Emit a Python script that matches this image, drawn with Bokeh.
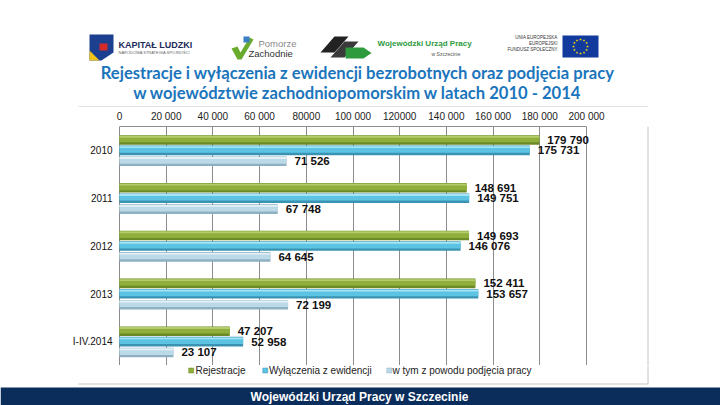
from bokeh.plotting import figure
from bokeh.layouts import column
from bokeh.models import (FactorRange, Range1d, FixedTicker, Span, ColumnDataSource)
from bokeh.transform import dodge
from bokeh.core.properties import value
from bokeh.embed import file_html
from bokeh.resources import INLINE

# ---------------- data ----------------
categories = ["2010", "2011", "2012", "2013", "I-IV.2014"]
rejestracje = [179790, 148691, 149693, 152411, 47207]
wylaczenia = [175731, 149751, 146076, 153657, 52958]
podjecia = [71526, 67748, 64645, 72199, 23107]
series_names = ["Rejestracje", "Wyłączenia z ewidencji", "w tym z powodu podjęcia pracy"]
x_ticks = [0, 20000, 40000, 60000, 80000, 100000, 120000, 140000, 160000, 180000, 200000]
x_tick_labels = ["0", "20 000", "40 000", "60 000", "80000", "100 000", "120000",
                 "140 000", "160 000", "180 000", "200 000"]
title_lines = ["Rejestracje i wyłączenia z ewidencji bezrobotnych oraz podjęcia pracy",
               "w województwie zachodniopomorskim w latach 2010 - 2014"]
footer_text = "Wojewódzki Urząd Pracy w Szczecinie"


def fmt(v):
    return f"{v:,}".replace(",", " ")


src = ColumnDataSource(dict(
    cat=categories,
    rej=rejestracje, wyl=wylaczenia, pod=podjecia,
    rej_lbl=[fmt(v) for v in rejestracje],
    wyl_lbl=[fmt(v) for v in wylaczenia],
    pod_lbl=[fmt(v) for v in podjecia],
))

W = 720
HEAD_H, MAIN_H, FOOT_H = 107, 258, 40
BOX_L, BOX_R = 78, 647
BOX_C = "#c4c4c4"
GRID = "#8c8c8c"
FONT = "Liberation Sans"

# series styling: (field, dodge offset, dark, mid, light)
series = [
    ("rej", 0.218, ("#6b8a26", "#8fae3c", "#b4cc6a")),
    ("wyl", 0.0, ("#3a93b3", "#5cc3e3", "#a3e4f6")),
    ("pod", -0.228, ("#8fb0c2", "#bcd9e7", "#e2f1f7")),
]


def blank(h):
    f = figure(width=W, height=h, output_backend="svg", toolbar_location=None,
               x_range=Range1d(0, W), y_range=Range1d(h, 0),
               x_axis_location=None, y_axis_location=None,
               min_border=0, min_border_left=0, min_border_right=0,
               min_border_top=0, min_border_bottom=0)
    f.grid.visible = False
    f.outline_line_color = None
    f.background_fill_color = "white"
    f.border_fill_color = "white"
    return f


# ---------------- header (logos + title) ----------------
hd = blank(HEAD_H)
# Kapitał Ludzki logo
hd.patches(xs=[[89, 113, 113, 101, 89], [89, 99, 89], [99, 107, 107, 99]],
           ys=[[34, 34, 52, 60, 60], [50, 60, 60], [43, 43, 50, 50]],
           fill_color=["#1d3f8f", "#f2c318", "#d62a2a"], line_color=None)
hd.text(x=[118], y=[44], text=["KAPITAŁ LUDZKI"],
        text_font=value(FONT), text_font_style="bold", text_font_size="9px",
        text_color="#1d2b5a", text_baseline="middle")
hd.text(x=[118], y=[52], text=["NARODOWA STRATEGIA SPÓJNOŚCI"], text_font=value(FONT),
        text_font_size="4px", text_color="#666666", text_baseline="middle")
# Pomorze Zachodnie
hd.patches(xs=[[231, 237, 240, 249, 253, 241, 237], [243, 249, 249, 243]],
           ys=[[48, 46, 52, 37, 39, 59, 59], [36, 36, 42, 42]],
           fill_color=["#6aaa2c", "#3a7fc8"], line_color=None)
hd.text(x=[258], y=[43], text=["Pomorze"], text_font=value(FONT), text_font_size="9.5px",
        text_color="#8a8a8a", text_baseline="middle")
hd.text(x=[248], y=[53], text=["Zachodnie"], text_font=value(FONT), text_font_size="9.5px",
        text_color="#333333", text_baseline="middle")
# WUP
hd.patches(xs=[[320, 334, 348, 334], [330, 344, 358, 344], [345, 363, 371, 363, 345]],
           ys=[[52, 36, 36, 52], [57, 41, 41, 57], [47, 47, 52.5, 58, 58]],
           fill_color=["#222222", "#3a3a3a", "#2e9a3e"], line_color=None)
hd.text(x=[377], y=[43], text=["Wojewódzki Urząd Pracy"], text_font=value(FONT),
        text_font_style="bold", text_font_size="8px", text_color="#2e9a3e", text_baseline="middle")
hd.text(x=[460], y=[53], text=["w Szczecinie"], text_font=value(FONT), text_font_size="5px",
        text_color="#555555", text_baseline="middle", text_align="right")
# UE
hd.text(x=[557, 557, 557], y=[37, 43, 49], text=["UNIA EUROPEJSKA", "EUROPEJSKI", "FUNDUSZ SPOŁECZNY"],
        text_font=value(FONT), text_font_size="4.5px", text_color="#333333",
        text_baseline="middle", text_align="right")
hd.quad(left=[562], right=[598], top=[35], bottom=[57], fill_color="#113a9c", line_color=None)
star_x = [587, 586.1, 583.5, 580, 576.5, 573.9, 573, 573.9, 576.5, 580, 583.5, 586.1]
star_y = [46, 49.5, 52.1, 53, 52.1, 49.5, 46, 42.5, 39.9, 39, 39.9, 42.5]
hd.scatter(x=star_x, y=star_y, marker="star", size=3, fill_color="#ffdd00", line_color=None)
# title
hd.text(x=[357, 357], y=[72, 92], text=title_lines, text_font=value("Lato"),
        text_font_style="bold", text_font_size="16.6px", text_color="#1b75bc",
        text_align="center", text_baseline="middle")
# chart box top line
hd.segment(x0=[BOX_L], x1=[BOX_R + 1], y0=[106.5], y1=[106.5], line_color=BOX_C, line_width=1)

# ---------------- main chart ----------------
X0_PX = 119                  # pixel of value 0
PX_PER_UNIT = 467 / 200000   # horizontal scale
FT, FH = 16, 242
p = figure(width=W, height=MAIN_H, output_backend="svg", toolbar_location=None,
           y_range=FactorRange(*categories[::-1], range_padding=0, factor_padding=0),
           x_range=Range1d(-X0_PX / PX_PER_UNIT, (W - X0_PX) / PX_PER_UNIT),
           x_axis_location="above", y_axis_location=None,
           min_border_left=0, min_border_right=0,
           min_border_top=FT, min_border_bottom=MAIN_H - FT - FH)
p.outline_line_color = None
p.background_fill_color = "white"
p.border_fill_color = "white"

p.xaxis.ticker = FixedTicker(ticks=x_ticks)
p.xaxis.major_label_overrides = dict(zip(x_ticks, x_tick_labels))
p.xaxis.bounds = (0, 200000)
p.xaxis.axis_line_color = GRID
p.xaxis.major_tick_line_color = None
p.xaxis.major_tick_out = 0
p.xaxis.major_tick_in = 0
p.xaxis.minor_tick_line_color = None
p.xaxis.major_label_standoff = 5
p.xaxis.major_label_text_font = FONT
p.xaxis.major_label_text_font_size = "10px"
p.xaxis.major_label_text_color = "#222222"

p.ygrid.grid_line_color = None
p.xgrid.ticker = FixedTicker(ticks=x_ticks)
p.xgrid.grid_line_color = GRID
p.xgrid.grid_line_width = 1

# box right edge
p.add_layout(Span(location=(BOX_R + 0.5 - X0_PX) / PX_PER_UNIT, dimension="height",
                  line_color=BOX_C, line_width=1))

# category labels (left of the value axis)
p.text(x=0, y="cat", text="cat", source=src, x_offset=-7, text_align="right",
       text_baseline="middle", text_font=value(FONT), text_font_size="10px",
       text_color="#111111")

for field, off, (dark, mid, light) in series:
    p.hbar(y=dodge("cat", off, range=p.y_range), left=0, right=field, height=0.2,
           source=src, fill_color=dark, line_color=None)
    p.hbar(y=dodge("cat", off + 0.015, range=p.y_range), left=0, right=field,
           height=0.13, source=src, fill_color=mid, line_color=None)
    p.hbar(y=dodge("cat", off + 0.068, range=p.y_range), left=0, right=field,
           height=0.04, source=src, fill_color=light, line_color=None)
    p.text(x=field, y=dodge("cat", off, range=p.y_range), text=field + "_lbl", source=src,
           x_offset=8, text_baseline="middle", text_align="left",
           text_font=value(FONT), text_font_style="bold",
           text_font_size="11.5px", text_color="#111111")

# ---------------- footer (legend + bar) ----------------
ft = blank(FOOT_H)
ft.scatter(x=[190.7, 264.8, 388.8], y=[5, 5, 5], marker="square", size=5,
           fill_color=[s[2][1] for s in series], line_color=[s[2][0] for s in series], line_width=0.5)
ft.text(x=[195, 268.5, 392], y=[5, 5, 5], text=series_names, text_font=value(FONT),
        text_font_size="10px", text_color="#222222", text_baseline="middle")
ft.segment(x0=[BOX_L, BOX_R + 0.5], x1=[BOX_R + 1, BOX_R + 0.5], y0=[18.5, 0], y1=[18.5, 18.5],
           line_color=BOX_C, line_width=1)
ft.quad(left=[0], right=[W], top=[22], bottom=[FOOT_H], fill_color="#0b2d5b", line_color=None)
ft.text(x=[359], y=[31.5], text=[footer_text], text_font=value(FONT), text_font_style="bold",
        text_font_size="12px", text_color="white", text_align="center", text_baseline="middle")

layout = column(hd, p, ft, spacing=0)

with open("out.html", "w") as f:
    f.write(file_html(layout, INLINE))
